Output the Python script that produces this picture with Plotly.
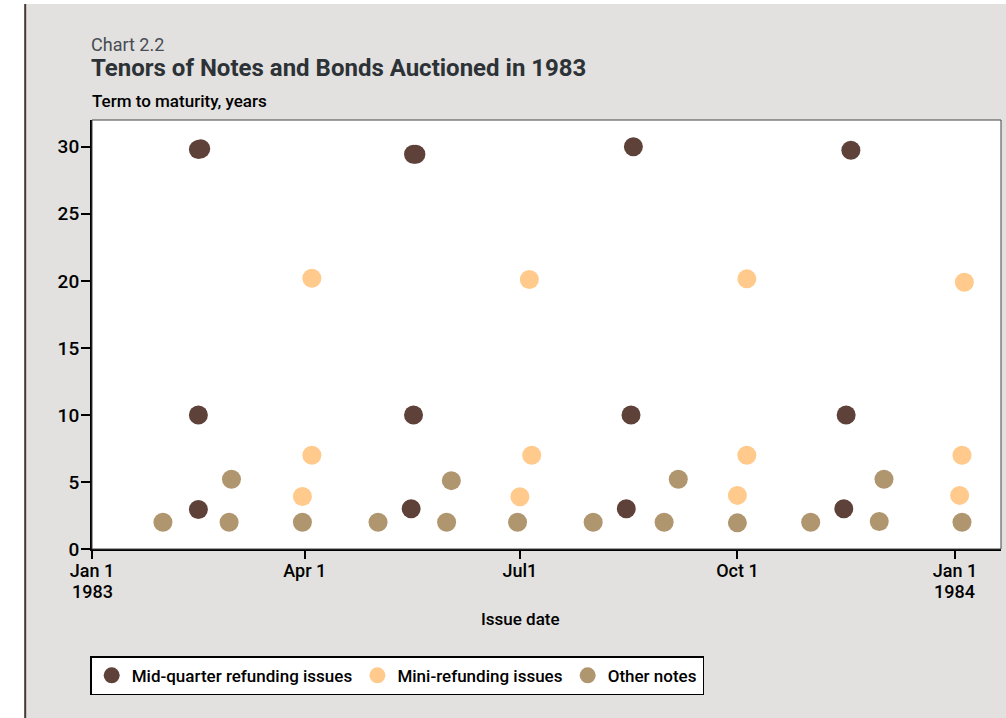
import plotly.graph_objects as go

# Mid-quarter refunding issues (3-, 10- and 30-year)
mid_dates = [
    "1983-02-15", "1983-02-16", "1983-02-15", "1983-02-15",
    "1983-05-17", "1983-05-18", "1983-05-17", "1983-05-16",
    "1983-08-18", "1983-08-17", "1983-08-15",
    "1983-11-18", "1983-11-16", "1983-11-15",
]
mid_years = [
    29.8, 29.85, 10.0, 2.95,
    29.45, 29.45, 10.0, 3.0,
    30.0, 10.0, 3.0,
    29.75, 10.0, 3.0,
]

# Mini-refunding issues (4-, 7- and 20-year)
mini_dates = [
    "1983-04-04", "1983-04-04", "1983-03-31",
    "1983-07-05", "1983-07-06", "1983-07-01",
    "1983-10-05", "1983-10-05", "1983-10-01",
    "1984-01-05", "1984-01-04", "1984-01-03",
]
mini_years = [
    20.2, 7.0, 3.92,
    20.1, 7.0, 3.9,
    20.15, 7.0, 4.0,
    19.9, 7.0, 4.0,
]

# Other notes (2-year cycle and 5-year)
other_dates = [
    "1983-01-31", "1983-02-28", "1983-03-01", "1983-03-31",
    "1983-05-02", "1983-05-31", "1983-06-02", "1983-06-30",
    "1983-08-01", "1983-08-31", "1983-09-06", "1983-10-01",
    "1983-11-01", "1983-11-30", "1983-12-02", "1984-01-04",
]
other_years = [
    2.0, 2.0, 5.2, 2.0,
    2.0, 2.0, 5.1, 2.0,
    2.0, 2.0, 5.2, 1.95,
    2.0, 2.05, 5.2, 2.0,
]

tick_dates = ["1983-01-01", "1983-04-01", "1983-07-01", "1983-10-01", "1984-01-01"]
tick_text = ["Jan 1", "Apr 1", "Jul1", "Oct 1", "Jan 1"]
year_dates = ["1983-01-01", "1984-01-01"]
year_text = ["1983", "1984"]

FONT = "Roboto, Liberation Sans, sans-serif"
DARK, LIGHT, TAN = "#5e4138", "#ffca8c", "#b0966f"
PANEL = "#e2e1df"

fig = go.Figure()
for name, xs, ys, color in [
    ("Mid-quarter refunding issues", mid_dates, mid_years, DARK),
    ("Mini-refunding issues", mini_dates, mini_years, LIGHT),
    ("Other notes", other_dates, other_years, TAN),
]:
    fig.add_trace(go.Scatter(
        x=xs, y=ys, mode="markers", name=name,
        marker=dict(size=19, color=color, line=dict(width=0)),
        cliponaxis=False,
    ))

fig.update_layout(
    width=1006,
    height=718,
    margin=dict(l=92, r=5, t=120, b=169),
    paper_bgcolor=PANEL,
    plot_bgcolor="white",
    font=dict(family=FONT, size=17, color="black", weight=500),
    showlegend=True,
    legend=dict(
        orientation="h", x=-0.002, xanchor="left", y=-0.25, yanchor="top",
        bgcolor="white", bordercolor="black", borderwidth=1.5,
        font=dict(size=17, weight=500), itemclick=False,
    ),
)

fig.update_xaxes(
    type="date",
    range=["1983-01-01", "1984-01-20 12:00"],
    tickvals=tick_dates, ticktext=tick_text,
    showline=True, linecolor="black", linewidth=2,
    ticks="outside", ticklen=8, tickwidth=1.5, tickcolor="black",
    ticklabelstandoff=-4,
    showgrid=False, zeroline=False,
    tickfont=dict(size=18, weight=500),
)
fig.update_yaxes(
    range=[0, 32],
    tickvals=[0, 5, 10, 15, 20, 25, 30],
    showline=True, linecolor="black", linewidth=2,
    ticks="outside", ticklen=9, tickwidth=1.5, tickcolor="black",
    ticklabelstandoff=-2,
    showgrid=False, zeroline=False,
    tickfont=dict(size=19, weight=500),
)

# year line under the January ticks
for d, t in zip(year_dates, year_text):
    fig.add_annotation(text=t, x=d, xref="x", y=-0.1, yref="paper",
                       xanchor="center", yanchor="middle", showarrow=False,
                       font=dict(size=18, weight=500))

# white strip outside the grey panel, and the dark rule on the left
fig.add_shape(type="rect", xref="paper", yref="paper",
              x0=-0.102, x1=-0.0735, y0=-0.4, y1=1.29,
              fillcolor="white", line=dict(width=0), layer="below")
fig.add_shape(type="rect", xref="paper", yref="paper",
              x0=-0.102, x1=1.01, y0=1.2705, y1=1.29,
              fillcolor="white", line=dict(width=0), layer="below")
fig.add_shape(type="line", xref="paper", yref="paper",
              x0=-0.0735, x1=-0.0735, y0=-0.4, y1=1.2705,
              line=dict(color="#4a3832", width=2), layer="below")
# thin frame on top and right of the plot
fig.add_shape(type="rect", xref="paper", yref="paper",
              x0=0, x1=1, y0=0, y1=1,
              line=dict(color="#444", width=1), layer="above")

fig.add_annotation(text="Chart 2.2", xref="paper", yref="paper",
                   x=-0.003, y=1.177, xanchor="left", yanchor="middle",
                   showarrow=False, font=dict(size=18, color="#474c52", weight=400))
fig.add_annotation(text="<b>Tenors of Notes and Bonds Auctioned in 1983</b>",
                   xref="paper", yref="paper",
                   x=-0.003, y=1.121, xanchor="left", yanchor="middle",
                   showarrow=False, font=dict(size=24, color="#2d3237"))
fig.add_annotation(text="Term to maturity, years", xref="paper", yref="paper",
                   x=-0.002, y=1.044, xanchor="left", yanchor="middle",
                   showarrow=False, font=dict(size=17, color="black"))
fig.add_annotation(text="Issue date", xref="paper", yref="paper",
                   x=0.471, y=-0.163, xanchor="center", yanchor="middle",
                   showarrow=False, font=dict(size=17, color="black"))

fig.write_html(
    "out.html",
    config={"displayModeBar": False},
    post_script="document.body.style.margin = '0';",
)
